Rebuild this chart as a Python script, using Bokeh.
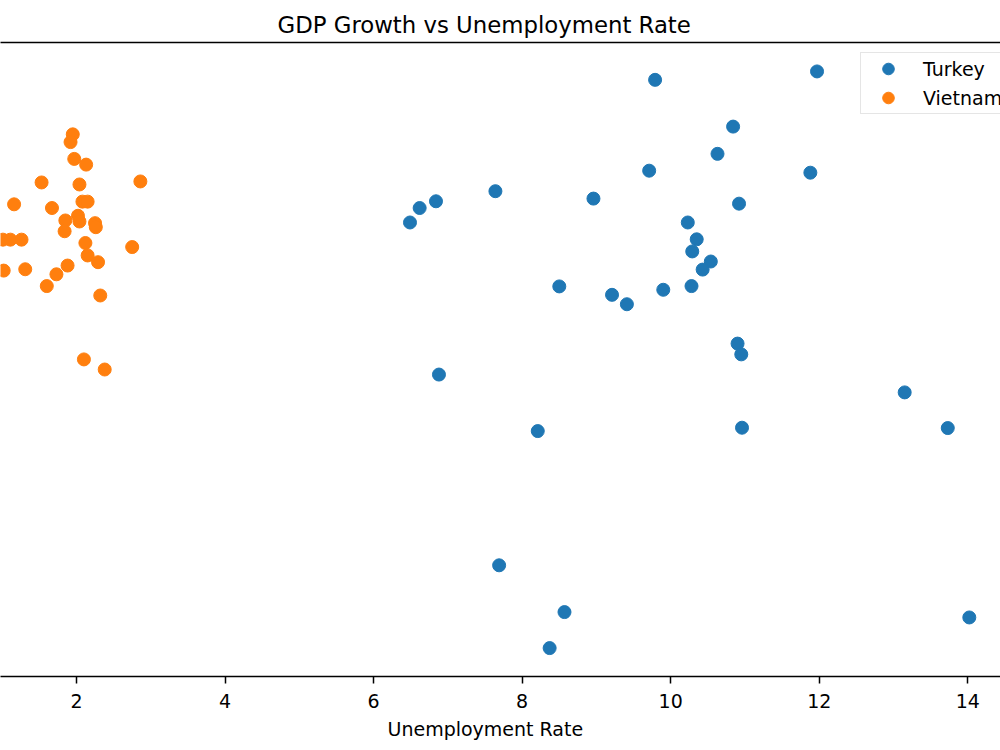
from bokeh.plotting import figure
from bokeh.models import LinearAxis, FixedTicker, Range1d, Title
from bokeh.embed import file_html
from bokeh.resources import INLINE

# ---- data ----
turkey_unemployment = [6.49, 6.62, 6.84, 7.64, 8.96, 8.50, 9.21, 9.79, 11.97, 10.84,
                       10.63, 9.71, 11.88, 10.92, 10.23, 10.35, 10.29, 10.54, 10.43, 10.28,
                       9.90, 9.41, 6.88, 8.21, 10.90, 10.95, 10.96, 13.15, 13.73, 7.69,
                       8.57, 8.37, 14.02]
turkey_gdp_growth = [6.91, 7.34, 7.54, 7.84, 7.62, 5.01, 4.76, 11.15, 11.40, 9.76,
                     8.95, 8.45, 8.39, 7.47, 6.91, 6.41, 6.05, 5.75, 5.51, 5.02,
                     4.91, 4.48, 2.39, 0.71, 3.31, 2.99, 0.81, 1.86, 0.80, -3.28,
                     -4.67, -5.74, -4.83]

vietnam_unemployment = [1.95, 1.92, 1.97, 2.13, 1.53, 2.04, 2.86, 1.16, 1.67, 2.08,
                        2.15, 2.02, 1.85, 2.04, 2.25, 2.26, 1.84, 1.01, 1.11, 1.26,
                        2.12, 2.75, 2.15, 2.29, 1.02, 1.31, 1.88, 1.73, 1.60, 2.32,
                        2.10, 2.38]
vietnam_gdp_growth = [9.53, 9.30, 8.80, 8.63, 8.10, 8.04, 8.13, 7.45, 7.34, 7.53,
                      7.53, 7.11, 6.97, 6.94, 6.89, 6.77, 6.65, 6.40, 6.40, 6.40,
                      6.30, 6.18, 5.93, 5.73, 5.48, 5.52, 5.63, 5.37, 5.02, 4.74,
                      2.84, 2.54]

x_ticks = [2, 4, 6, 8, 10, 12, 14]
title_text = "GDP Growth vs Unemployment Rate"
x_label_text = "Unemployment Rate"
series_names = ["Turkey", "Vietnam"]
series_colors = ["#1f77b4", "#ff7f0e"]

FONT = "DejaVu Sans"

p = figure(width=1000, height=750, output_backend="svg", toolbar_location=None,
           x_range=Range1d(0.977, 14.44), y_range=Range1d(-6.585, 12.26),
           y_axis_location=None,
           min_border_left=0, min_border_right=0, min_border_top=42, min_border_bottom=74,
           outline_line_color=None, background_fill_color="white", border_fill_color="white")
p.title.visible = False
p.grid.visible = False

# bottom axis
ax = p.xaxis[0]
ax.ticker = FixedTicker(ticks=x_ticks)
ax.axis_line_color = "black"
ax.axis_line_width = 1.5
ax.major_tick_line_color = "black"
ax.major_tick_line_width = 1.5
ax.major_tick_out = 7
ax.major_tick_in = 0
ax.minor_tick_line_color = None
ax.major_label_text_font = FONT
ax.major_label_text_font_size = "19px"
ax.major_label_text_color = "black"
ax.major_label_standoff = 10

# top spine
top = LinearAxis(axis_line_color="black", axis_line_width=1.5,
                 major_tick_line_color=None, minor_tick_line_color=None,
                 major_label_text_color=None, major_label_text_font_size="1px",
                 ticker=FixedTicker(ticks=[]))
p.add_layout(top, "above")

p.scatter(turkey_unemployment, turkey_gdp_growth, size=13,
          fill_color=series_colors[0], line_color=series_colors[0],
          legend_label=series_names[0])
p.scatter(vietnam_unemployment, vietnam_gdp_growth, size=13,
          fill_color=series_colors[1], line_color=series_colors[1],
          legend_label=series_names[1])

lg = p.legend[0]
lg.location = (860, 562)
lg.label_text_font = FONT
lg.label_text_font_size = "19px"
lg.label_text_color = "black"
lg.glyph_width = 52
lg.glyph_height = 29
lg.label_height = 22
lg.spacing = 0
lg.padding = 1
lg.margin = 0
lg.label_standoff = 9
lg.border_line_color = "#cccccc"
lg.border_line_width = 1
lg.background_fill_alpha = 0.8

p.add_layout(Title(text=title_text, align="left", offset=277,
                   text_font=FONT, text_font_size="22.8px", text_font_style="normal",
                   text_color="black"), "above")
p.add_layout(Title(text=x_label_text, align="left", offset=387,
                   text_font=FONT, text_font_size="19px", text_font_style="normal",
                   text_color="black"), "below")

open("out.html", "w").write(file_html(p, INLINE))
